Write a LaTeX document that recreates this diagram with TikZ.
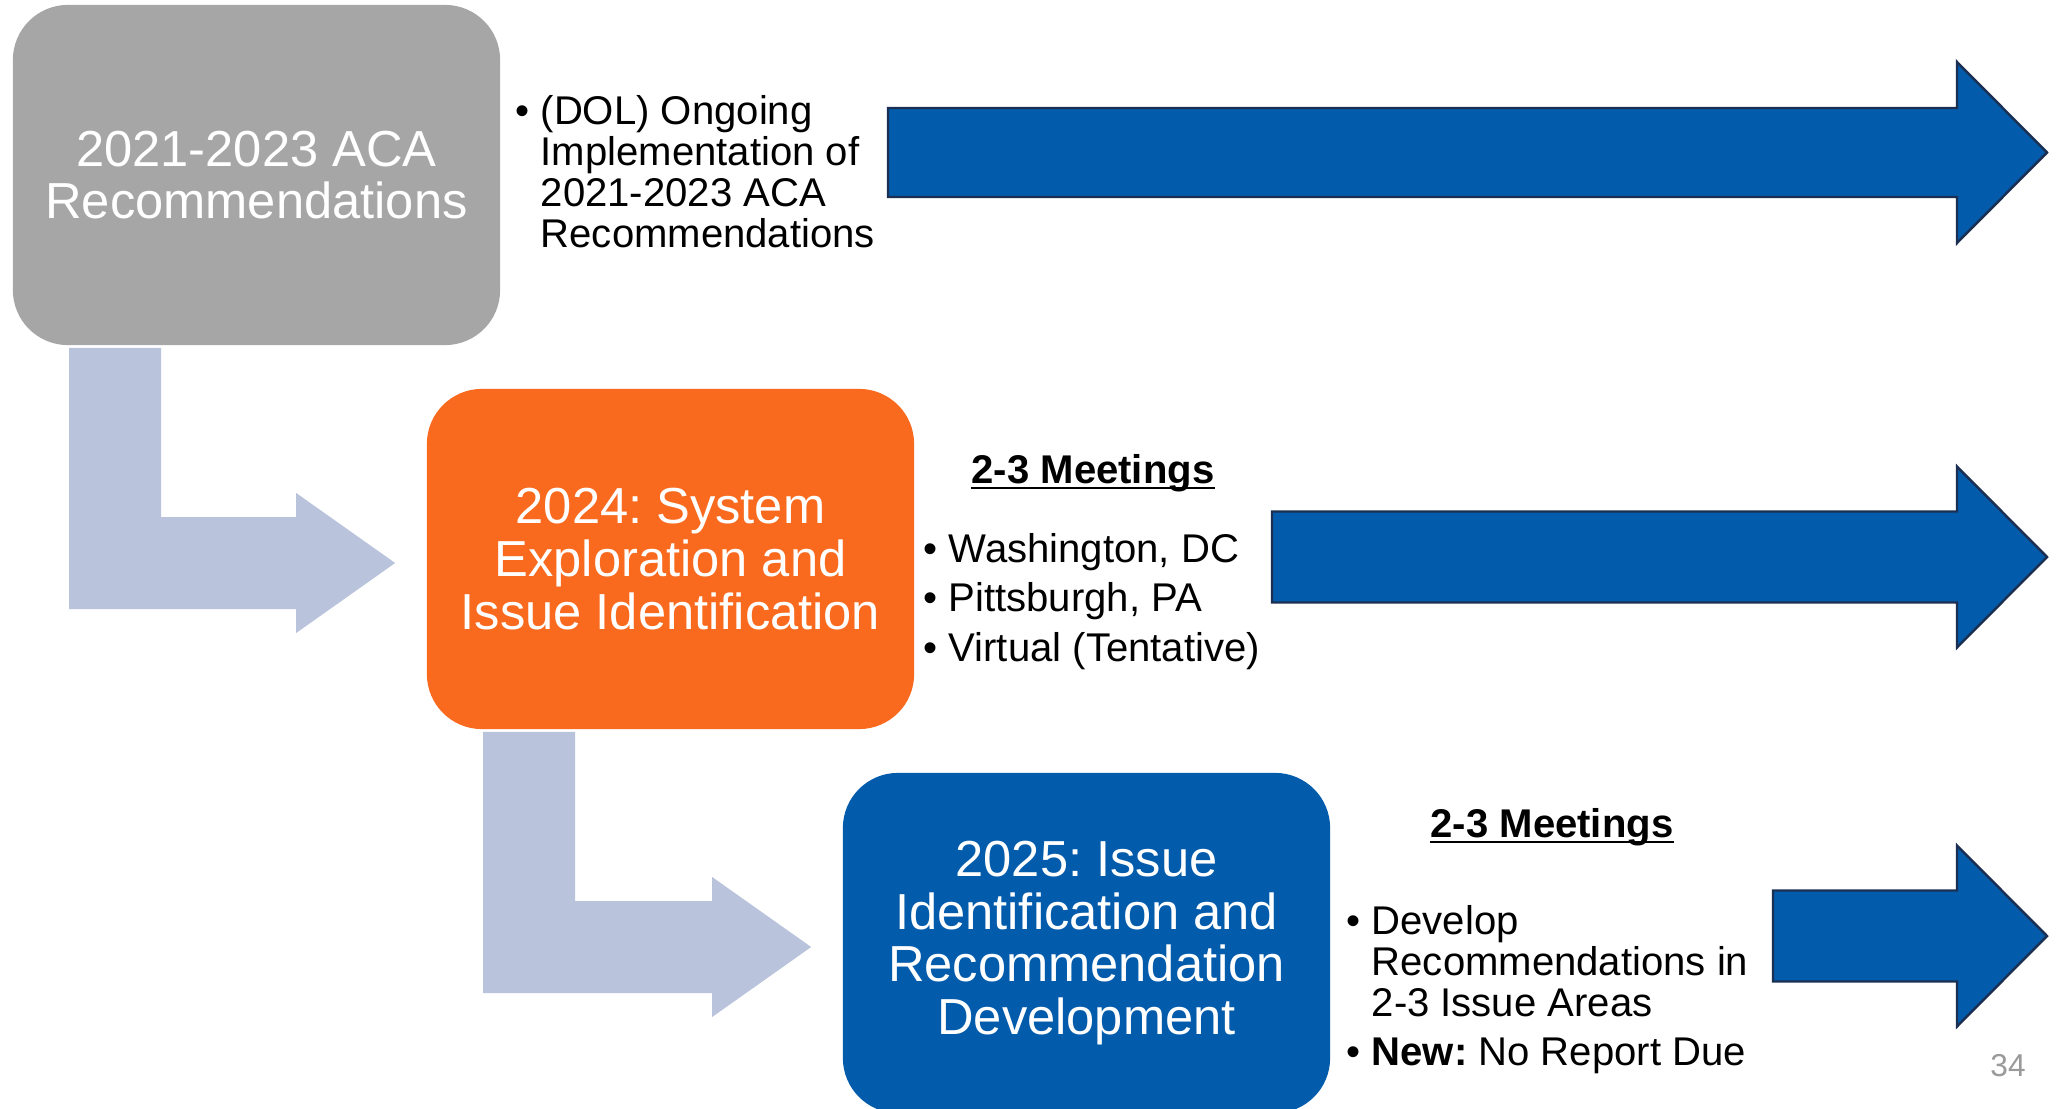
\documentclass[tikz,border=0pt]{standalone}
\usepackage{fontspec}
\setmainfont{Liberation Sans}
\usetikzlibrary{calc}
\definecolor{acagray}{HTML}{A6A6A6}
\definecolor{phaseorange}{HTML}{F96A1E}
\definecolor{phaseblue}{HTML}{035BAC}
\definecolor{stepgray}{HTML}{B9C3DC}
\definecolor{arrowline}{HTML}{1B2F52}
\definecolor{pagegray}{HTML}{9A9A9A}
\newcommand{\itemdot}{\makebox[0.25cm][l]{•}}
\newcommand{\itemgap}{\hspace*{0.25cm}}
\frenchspacing
\begin{document}
\begin{tikzpicture}[
x=0.01cm, y=-0.01cm,
phasenode/.style={rectangle, rounded corners=5.5mm, minimum width=4.87cm, minimum height=3.4cm, inner sep=0pt, align=center, text=white, font=\fontsize{14.4}{15}\selectfont},
listnode/.style={anchor=north west, inner sep=0pt, align=left, font=\fontsize{11.4}{11.67}\selectfont},
meetnode/.style={anchor=base, inner sep=0pt, font=\fontsize{11.4}{11.67}\selectfont\bfseries},
bentarrow/.style={fill=stepgray},
bigarrow/.style={fill=phaseblue, draw=arrowline, line width=0.7pt},
]
\useasboundingbox (0,0) rectangle (2062,1109);

% phase boxes
\node[phasenode, fill=acagray]     (aca)     at (256.5,175) {2021-2023 ACA\\Recommendations};
\node[phasenode, fill=phaseorange] (explore) at (670.5,559) {2024: System\\Exploration and\\Issue Identification};
\node[phasenode, fill=phaseblue]   (develop) at (1086.5,943) {2025: Issue\\Identification and\\Recommendation\\Development};

% bent arrows between phases
\coordinate (tip1)  at ($(explore.west)+(-31,4)$);
\coordinate (stem1) at ($(aca.south west)+(57,2)$);
\fill[bentarrow] (tip1) -- ++(-99,-70) -- ++(0,24) -| ($(stem1)+(92,0)$) -- (stem1) |- ($(tip1)+(-99,46)$) -- ++(0,24) -- cycle;
\coordinate (tip2)  at ($(develop.west)+(-31,4)$);
\coordinate (stem2) at ($(explore.south west)+(57,2)$);
\fill[bentarrow] (tip2) -- ++(-99,-70) -- ++(0,24) -| ($(stem2)+(92,0)$) -- (stem2) |- ($(tip2)+(-99,46)$) -- ++(0,24) -- cycle;

% side texts
\node[listnode] (dol) at (515,95) {\itemdot(DOL) Ongoing\\\itemgap Implementation of\\\itemgap 2021-2023 ACA\\\itemgap Recommendations};
\node[meetnode] (meet1) at (1093,483) {2-3 Meetings};
\draw[line width=0.75pt] ($(meet1.base west)+(0,5)$) -- ($(meet1.base east)+(0,5)$);
\node[listnode] (cities) at (923,533) {\itemdot Washington, DC\\[2.3pt]\itemdot Pittsburgh, PA\\[2.3pt]\itemdot Virtual (Tentative)};
\node[meetnode] (meet2) at (1552,837) {2-3 Meetings};
\draw[line width=0.75pt] ($(meet2.base west)+(0,5)$) -- ($(meet2.base east)+(0,5)$);
\node[listnode] (tasks) at (1346,905) {\itemdot Develop\\\itemgap Recommendations in\\\itemgap 2-3 Issue Areas\\[2.3pt]\itemdot\textbf{New:} No Report Due};

% ongoing arrows
\coordinate (tipA) at (2047,152.5);
\draw[bigarrow] (tipA) -- ++(-90,-90.5) -- ++(0,46) -- ++(-1069,0) -- ++(0,89) -- ++(1069,0) -- ++(0,46) -- cycle;
\coordinate (tipB) at (2047,557);
\draw[bigarrow] (tipB) -- ++(-90,-90.5) -- ++(0,45) -- ++(-685,0) -- ++(0,91) -- ++(685,0) -- ++(0,45) -- cycle;
\coordinate (tipC) at (2047,936);
\draw[bigarrow] (tipC) -- ++(-90,-90.5) -- ++(0,45) -- ++(-184,0) -- ++(0,91) -- ++(184,0) -- ++(0,45) -- cycle;

\node[anchor=base, inner sep=0pt, text=pagegray, font=\fontsize{9}{10}\selectfont] (page) at (2008,1076) {34};
\end{tikzpicture}
\end{document}
